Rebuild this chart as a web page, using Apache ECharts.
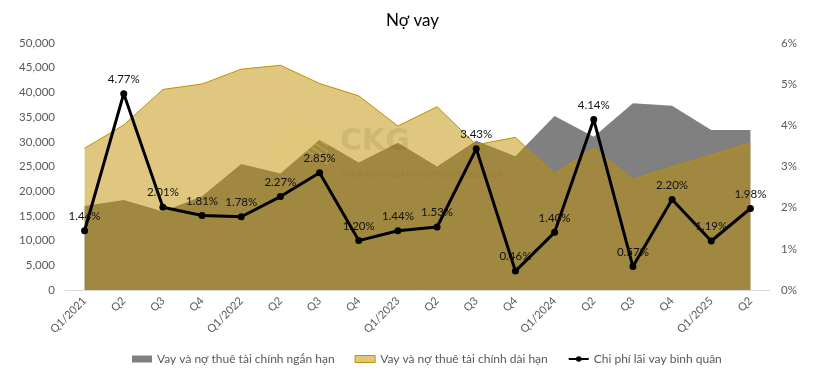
<!DOCTYPE html>
<html>
<head>
<meta charset="utf-8">
<script src="https://cdn.jsdelivr.net/npm/echarts@6/dist/echarts.min.js"></script>
<style>
html,body{margin:0;padding:0;background:#fff;}
#c{width:827px;height:372px;}
</style>
</head>
<body>
<div id="c"></div>
<script>
const categories = ['Q1/2021','Q2','Q3','Q4','Q1/2022','Q2','Q3','Q4','Q1/2023','Q2','Q3','Q4','Q1/2024','Q2','Q3','Q4','Q1/2025','Q2'];
const shortTerm = [17000,18200,15900,19000,25500,23600,30400,25800,29800,25000,30200,27100,35200,31000,37800,37300,32400,32400];
const longTerm = [28700,33400,40600,41700,44700,45500,41800,39300,33200,37100,29400,30900,23500,28700,22400,24900,27300,29800];
const rate = [1.44,4.77,2.01,1.81,1.78,2.27,2.85,1.20,1.44,1.53,3.43,0.46,1.40,4.14,0.57,2.20,1.19,1.98];
const leftTicks = {min:0, max:50000, interval:5000};
const rightTicks = {min:0, max:6, interval:1};
const names = ['Vay và nợ thuê tài chính ngắn hạn','Vay và nợ thuê tài chính dài hạn','Chi phí lãi vay bình quân'];

const FONT = 'Lato, "Open Sans", sans-serif';
const chart = echarts.init(document.getElementById('c'), null, {renderer:'canvas'});

const chevrons = [];
for (let k = 0; k < 5; k++) {
  chevrons.push({
    type:'polyline',
    shape:{points:[[272,140+k*6],[300,122+k*6],[328,140+k*6]]},
    style:{stroke:'rgba(235,195,90,0.35)', fill:null, lineWidth:1.5},
    z:5, silent:true
  });
}

chart.setOption({
  animation:false,
  textStyle:{fontFamily:FONT},
  title:{
    text:'Nợ vay', left:381, top:7,
    textStyle:{fontFamily:FONT, fontSize:17, fontWeight:'normal', color:'#000'}
  },
  legend:{
    left:127, top:348, itemGap:20, itemWidth:20, itemHeight:7,
    textStyle:{fontFamily:FONT, fontSize:12, color:'#595959'},
    data:[
      {name:names[0], icon:'rect', itemStyle:{color:'#808080', borderWidth:0}},
      {name:names[1], icon:'rect', itemStyle:{color:'#dfc780', borderColor:'#bf9000', borderWidth:1}},
      {name:names[2]}
    ]
  },
  grid:{left:65, right:57, top:43, bottom:82, containLabel:false},
  xAxis:{
    type:'category', data:categories, boundaryGap:true,
    axisTick:{show:false},
    axisLine:{lineStyle:{color:'#d9d9d9', width:1}},
    axisLabel:{rotate:45, interval:0, margin:9, fontFamily:FONT, fontSize:11, color:'#595959'}
  },
  yAxis:[
    {
      type:'value', min:leftTicks.min, max:leftTicks.max, interval:leftTicks.interval,
      splitLine:{show:false}, axisLine:{show:false}, axisTick:{show:false},
      axisLabel:{margin:10, fontFamily:FONT, fontSize:11.5, color:'#595959',
        formatter:v=>v.toLocaleString('en-US')}
    },
    {
      type:'value', min:rightTicks.min, max:rightTicks.max, interval:rightTicks.interval,
      splitLine:{show:false}, axisLine:{show:false}, axisTick:{show:false},
      axisLabel:{margin:11, fontFamily:FONT, fontSize:11.5, color:'#595959', formatter:'{value}%'}
    }
  ],
  graphic:[
    ...chevrons,
    {type:'text', left:340, top:127, z:5, silent:true,
      style:{text:'CKG', font:'bold 30px "DejaVu Sans", sans-serif', fill:'rgba(90,70,20,0.12)'}},
    {type:'text', left:340, top:171, z:5, silent:true,
      style:{text:'YOUR TRUSTED INVESTMENT PARTNER', font:'7.5px "DejaVu Serif", serif', fill:'rgba(90,70,20,0.12)'}}
  ],
  series:[
    {
      name:names[0], type:'line', data:shortTerm, symbol:'none', z:1,
      itemStyle:{color:'#808080'},
      lineStyle:{width:0, color:'#808080'},
      areaStyle:{color:'#808080', opacity:1}
    },
    {
      name:names[1], type:'line', data:longTerm, symbol:'none', z:2,
      itemStyle:{color:'#dfc780', borderColor:'#bf9000'},
      lineStyle:{width:1, color:'#bf9000'},
      areaStyle:{color:'rgba(191,143,0,0.5)', opacity:1}
    },
    {
      name:names[2], type:'line', data:rate, yAxisIndex:1, z:10,
      symbol:'circle', symbolSize:7,
      itemStyle:{color:'#000'},
      lineStyle:{width:3, color:'#000'},
      label:{show:true, position:'top', distance:5, fontFamily:FONT, fontSize:11.5, color:'#111',
        formatter:p=>p.value.toFixed(2)+'%'}
    }
  ]
});
</script>
</body>
</html>
